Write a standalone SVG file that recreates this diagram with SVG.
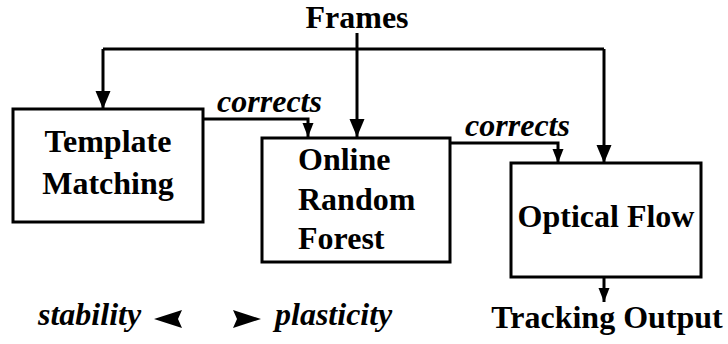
<svg xmlns="http://www.w3.org/2000/svg" width="728" height="344" viewBox="0 0 728 344">
  <style>
    .box { fill: #fff; stroke: #000; stroke-width: 3; }
    .wire { fill: none; stroke: #000; stroke-width: 3; }
    text { fill: #000; font-size: 32px; font-weight: bold; }
    .it { font-style: italic; }
  </style>
  <defs>
    <marker id="headBig" markerUnits="userSpaceOnUse" markerWidth="20" markerHeight="16" refX="18" refY="7.5" orient="auto">
      <path d="M0,0 L18,7.5 L0,15 Z" fill="#000"/>
    </marker>
    <marker id="headSmall" markerUnits="userSpaceOnUse" markerWidth="16" markerHeight="12" refX="14" refY="5.5" orient="auto">
      <path d="M0,0 L14,5.5 L0,11 Z" fill="#000"/>
    </marker>
  </defs>

  <rect width="728" height="344" fill="#fff"/>

  <g font-family="Liberation Serif, Times New Roman, serif">
    <!-- connectors -->
    <g id="connectors">
      <path class="wire" d="M357,33 V137" marker-end="url(#headBig)"/>
      <path class="wire" d="M103,49 H604"/>
      <path class="wire" d="M103,49 V109" marker-end="url(#headBig)"/>
      <path class="wire" d="M604,49 V163" marker-end="url(#headBig)"/>
      <path class="wire" d="M203,119 H308 V137" marker-end="url(#headSmall)"/>
      <path class="wire" d="M450,143 H558 V163" marker-end="url(#headSmall)"/>
      <path class="wire" d="M604,277 V302" marker-end="url(#headSmall)"/>
      <text class="it" x="269.5" y="112" text-anchor="middle">corrects</text>
      <text class="it" x="517.5" y="136" text-anchor="middle">corrects</text>
    </g>

    <!-- input -->
    <g id="frames">
      <text x="357" y="28" font-size="31" text-anchor="middle">Frames</text>
    </g>

    <g id="template-matching">
      <rect class="box" x="13" y="109" width="190" height="113"/>
      <text x="108" y="152" text-anchor="middle">Template</text>
      <text x="108" y="194" text-anchor="middle">Matching</text>
    </g>

    <g id="online-random-forest">
      <rect class="box" x="262" y="138" width="188" height="124"/>
      <text x="298" y="170">Online</text>
      <text x="298" y="210">Random</text>
      <text x="298" y="249">Forest</text>
    </g>

    <g id="optical-flow">
      <rect class="box" x="511" y="163" width="190" height="114"/>
      <text x="606" y="227" text-anchor="middle">Optical Flow</text>
    </g>

    <!-- output -->
    <g id="tracking-output">
      <text x="607" y="328" text-anchor="middle">Tracking Output</text>
    </g>

    <!-- stability / plasticity legend -->
    <g id="legend">
      <text class="it" x="38" y="325">stability</text>
      <path d="M154,319 L182,310 L178,319 L182,328 Z" fill="#000"/>
      <path d="M261,319 L233,310 L237,319 L233,328 Z" fill="#000"/>
      <text class="it" x="275" y="325">plasticity</text>
    </g>
  </g>
</svg>
